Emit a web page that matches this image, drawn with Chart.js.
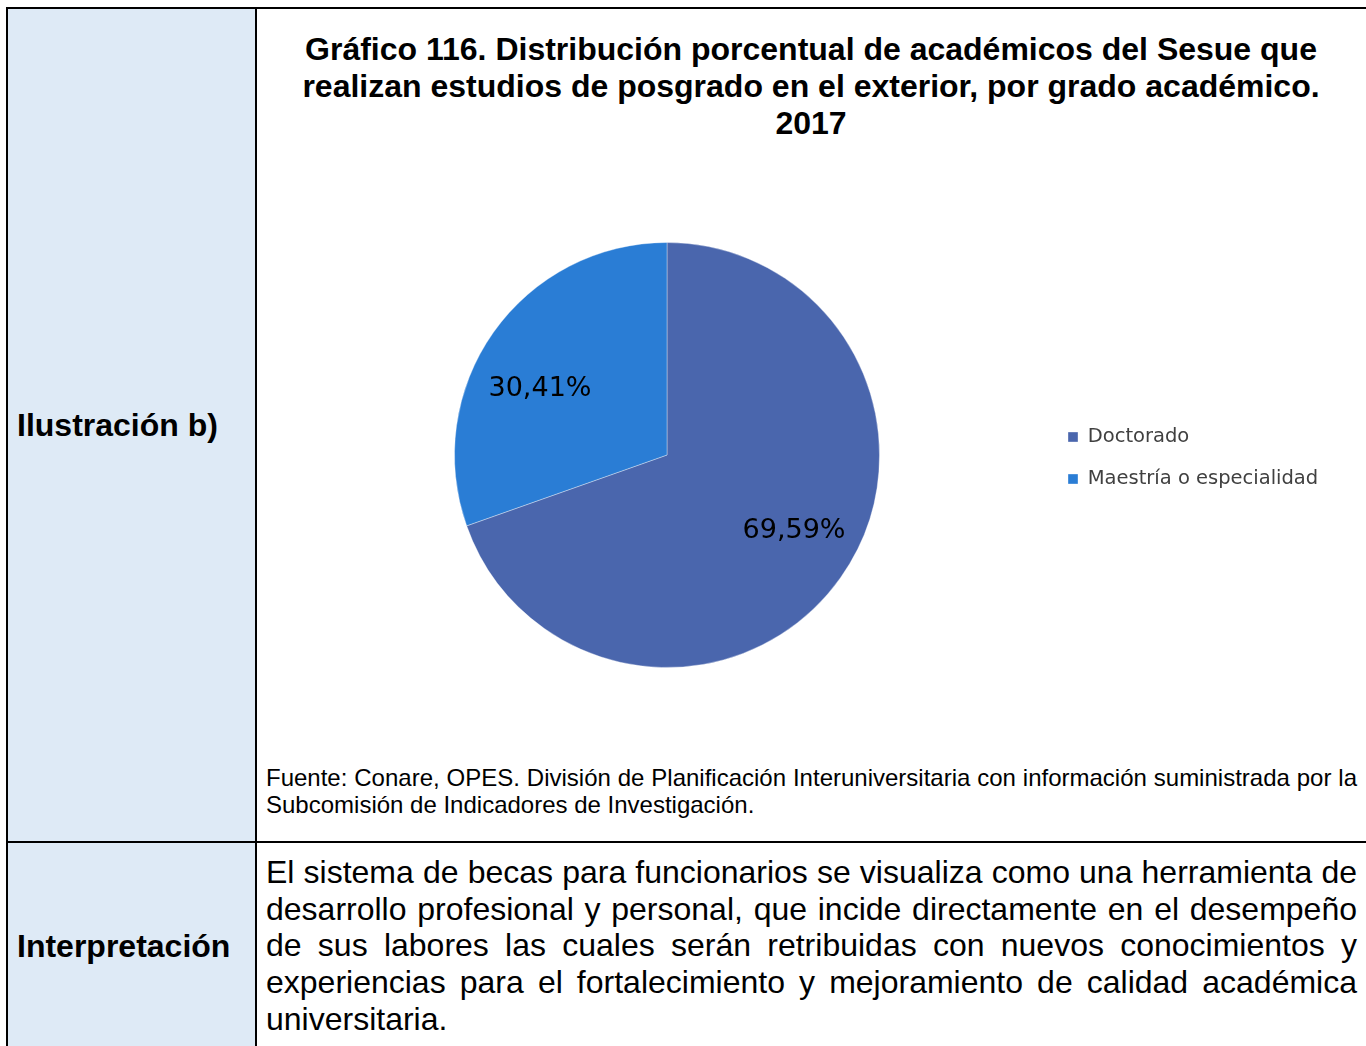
<!DOCTYPE html>
<html lang="es">
<head>
<meta charset="utf-8">
<title>Gráfico 116</title>
<script src="https://cdn.jsdelivr.net/npm/chart.js@4/dist/chart.umd.min.js"></script>
<style>
  html, body { margin: 0; padding: 0; background: #ffffff; }
  body { width: 1366px; height: 1046px; position: relative; overflow: hidden;
         font-family: Arial, "Liberation Sans", sans-serif; color: #000; }
  .abs { position: absolute; }
  .side { left: 8px; top: 8px; width: 248px; height: 1038px; background: #DEEAF6; }
  .line { background: #000; }
  .head { font-weight: bold; font-size: 32px; line-height: 36px; left: 17px; white-space: nowrap; }
  .title { left: 281px; width: 1060px; top: 31px; text-align: center; font-weight: bold;
           font-size: 32px; line-height: 37px; }
  .source { left: 266px; width: 1091px; top: 764px; font-size: 24px; line-height: 27px;
            text-align: justify; }
  .interp { left: 266px; width: 1091px; top: 854px; font-size: 32px; line-height: 36.7px;
            text-align: justify; }
  #chartBox { left: 258px; top: 160px; width: 1108px; height: 590px; }
</style>
</head>
<body>
<div class="abs side"></div>
<div class="abs line" style="left:6px;top:7px;width:1360px;height:2px"></div>
<div class="abs line" style="left:6px;top:7px;width:2px;height:1039px"></div>
<div class="abs line" style="left:255px;top:7px;width:2px;height:1039px"></div>
<div class="abs line" style="left:6px;top:841px;width:1360px;height:2px"></div>

<div class="abs head" style="top:407px">Ilustración b)</div>
<div class="abs head" style="top:928px">Interpretación</div>

<div class="abs title">Gráfico 116. Distribución porcentual de académicos del Sesue que realizan estudios de posgrado en el exterior, por grado académico. 2017</div>

<div class="abs" id="chartBox"><canvas id="pie"></canvas></div>

<div class="abs source">Fuente: Conare, OPES. División de Planificación Interuniversitaria con información suministrada por la Subcomisión de Indicadores de Investigación.</div>

<div class="abs interp">El sistema de becas para funcionarios se visualiza como una herramienta de desarrollo profesional y personal, que incide directamente en el desempeño de sus labores las cuales serán retribuidas con nuevos conocimientos y experiencias para el fortalecimiento y mejoramiento de calidad académica universitaria.</div>

<script>
// Grado académico y porcentaje de académicos
const categories = ['Doctorado', 'Maestría o especialidad'];
const percentages = [69.59, 30.41];
const sliceColors = ['#4A66AD', '#2A7DD5'];

const labelFont = '"DejaVu Sans", sans-serif';

// Porcentajes escritos dentro de cada sector
const sliceLabels = {
  id: 'sliceLabels',
  afterDatasetsDraw(chart) {
    const ctx = chart.ctx;
    const meta = chart.getDatasetMeta(0);
    ctx.save();
    ctx.font = '27px ' + labelFont;
    ctx.fillStyle = '#000';
    ctx.textAlign = 'center';
    ctx.textBaseline = 'middle';
    meta.data.forEach((arc, i) => {
      const p = arc.getProps(['x', 'y', 'startAngle', 'endAngle', 'outerRadius'], true);
      const mid = (p.startAngle + p.endAngle) / 2 - 0.105;
      const r = p.outerRadius * 0.685;
      const txt = percentages[i].toFixed(2).replace('.', ',') + '%';
      ctx.fillText(txt, p.x + Math.cos(mid) * r, p.y + Math.sin(mid) * r + 5);
    });
    ctx.restore();
  }
};

const chart = new Chart(document.getElementById('pie'), {
  type: 'pie',
  data: {
    labels: categories,
    datasets: [{
      data: percentages,
      backgroundColor: sliceColors,
      borderColor: 'rgba(255,255,255,0.35)',
      borderWidth: 1
    }]
  },
  options: {
    responsive: true,
    maintainAspectRatio: false,
    animation: false,
    layout: { padding: { top: 82, bottom: 82, left: 0, right: 0 } },
    plugins: {
      tooltip: { enabled: false },
      legend: {
        position: 'right',
        // an empty, very small title nudges the legend rows slightly downward
        title: { display: true, text: '', padding: 0, font: { size: 5, lineHeight: 1.2 } },
        labels: {
          boxWidth: 10,
          boxHeight: 10,
          padding: 22.5,
          color: '#404040',
          font: { family: labelFont, size: 19.5 }
        }
      }
    }
  },
  plugins: [sliceLabels]
});

// Sitúa el centro del pastel y la leyenda en su lugar dentro del lienzo
const centerX = 409;   // canvas px
const legendBoxX = 810; // canvas px
for (let k = 0; k < 3; k++) {
  const lg = chart.legend;
  const hb = lg.legendHitBoxes[0].left;
  const pad = chart.options.layout.padding;
  const shiftLegend = legendBoxX - hb;
  pad.right = Math.max(0, pad.right - shiftLegend);
  chart.update();
  const arc = chart.getDatasetMeta(0).data[0];
  pad.left = pad.left + 2 * (centerX - arc.x);
  chart.update();
}
</script>
</body>
</html>
